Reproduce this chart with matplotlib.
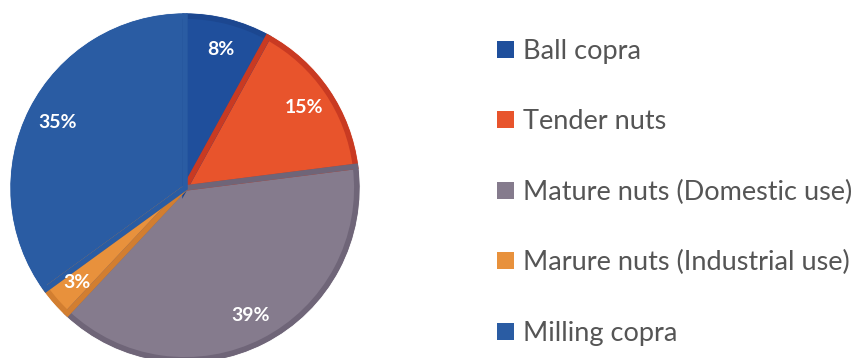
import matplotlib.pyplot as plt
from matplotlib.patches import Patch

# coconut utilisation shares (%)
labels = ['Ball copra', 'Tender nuts', 'Mature nuts (Domestic use)',
          'Marure nuts (Industrial use)', 'Milling copra']
shares = [8, 15, 39, 3, 35]
colors = ['#1f4f9c', '#e8542c', '#857b8d', '#e8913c', '#2a5ca3']
edges = ['#1c4790', '#c93a22', '#6f6578', '#d27e30', '#2a5ca3']

plt.rcParams['font.family'] = ['Lato', 'DejaVu Sans']

fig = plt.figure(figsize=(8.68, 3.58), dpi=100)
ax = fig.add_axes([10 / 868, -5 / 358, 350 / 868, 350 / 358])

wedges, texts, autotexts = ax.pie(
    shares, colors=colors, startangle=90, counterclock=False,
    autopct='%d%%', pctdistance=0.82,
    wedgeprops=dict(linewidth=0.8, edgecolor='white'),
    textprops=dict(color='white', fontsize=14, fontweight='bold'))

# darker inner rim on each slice
rims, _ = ax.pie(shares, startangle=90, counterclock=False, radius=0.982,
                 wedgeprops=dict(linewidth=4, fill=False))
for w, ec in zip(rims, edges):
    w.set_edgecolor(ec)

ax.set_xlim(-1, 1)
ax.set_ylim(-1, 1)
ax.set_aspect('equal')

handles = [Patch(facecolor=c, edgecolor='none') for c in colors]
fig.legend(handles, labels, loc='upper left', bbox_to_anchor=(473 / 868, 0.96),
           frameon=False, fontsize=19.5, labelcolor='#555555',
           handlelength=0.6, handleheight=0.6, handletextpad=0.35,
           labelspacing=1.68)

fig.savefig('out.png', dpi=100)
